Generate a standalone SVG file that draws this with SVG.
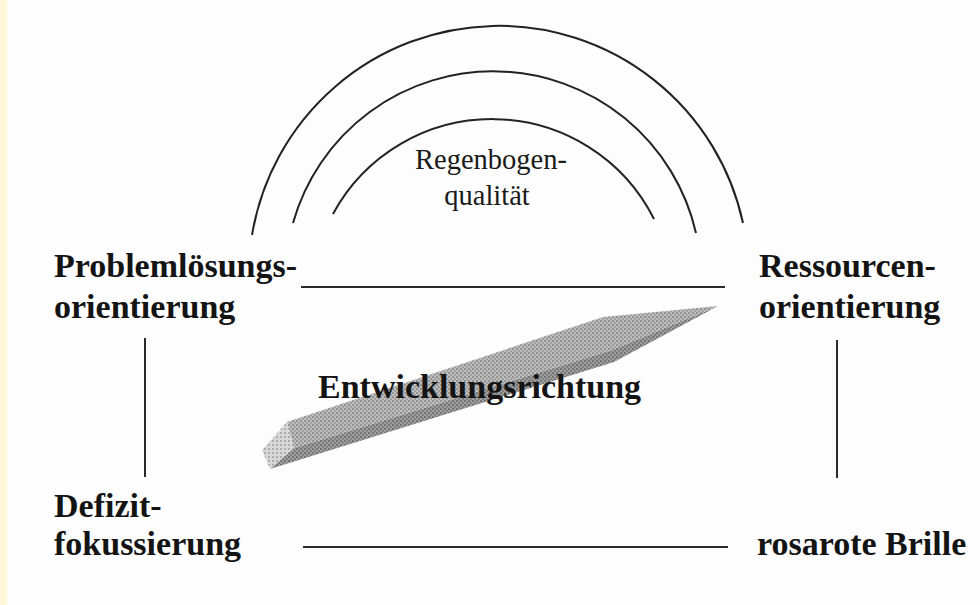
<svg xmlns="http://www.w3.org/2000/svg" width="980" height="605" viewBox="0 0 980 605">
<defs>
<style>
.lbl{font-family:"Liberation Serif","Times New Roman",serif;font-weight:bold;font-size:34px;fill:#141414}
.rb{font-family:"Liberation Serif","Times New Roman",serif;font-size:28.5px;fill:#1a1a1a}
.ln{stroke:#2a2a2a;stroke-width:2;fill:none}
.arc{stroke:#222;stroke-width:2;fill:none}
</style>
<pattern id="dotTop" width="4" height="4" patternUnits="userSpaceOnUse">
<rect width="4" height="4" fill="#bdbdbd"/>
<rect x="0" y="0" width="2" height="2" fill="#929292"/>
<rect x="2" y="2" width="2" height="2" fill="#a0a0a0"/>
</pattern>
<pattern id="dotSide" width="4" height="4" patternUnits="userSpaceOnUse">
<rect width="4" height="4" fill="#9e9e9e"/>
<rect x="0" y="0" width="2" height="2" fill="#747474"/>
<rect x="2" y="2" width="2" height="2" fill="#808080"/>
</pattern>
<pattern id="dotCap" width="4" height="4" patternUnits="userSpaceOnUse">
<rect width="4" height="4" fill="#d8d8d8"/>
<rect x="0" y="0" width="2" height="2" fill="#acacac"/>
</pattern>
</defs>
<rect width="980" height="605" fill="#fdfdfd"/>
<rect x="0" y="0" width="7" height="605" fill="#fff8d8"/>

<g id="rainbow">
<path class="arc" d="M 252 235 A 250 250 0 0 1 743 223"/>
<path class="arc" d="M 293 223 A 208 208 0 0 1 696 233"/>
<path class="arc" d="M 333 214 A 181 181 0 0 1 654 219"/>
<text class="rb" x="491" y="169" text-anchor="middle">Regenbogen-</text>
<text class="rb" x="487" y="205" text-anchor="middle">qualität</text>
</g>

<g id="connectors">
<line class="ln" x1="301" y1="287" x2="725" y2="287"/>
<line class="ln" x1="303" y1="547" x2="728" y2="547"/>
<line class="ln" x1="145" y1="338" x2="145" y2="477"/>
<line class="ln" x1="837" y1="340" x2="837" y2="478"/>
</g>

<g id="arrow">
<polygon points="294,448 612,350 718,306 614,362 270,469" fill="url(#dotSide)"/>
<polygon points="287,422 603,317 718,306 612,350 294,448" fill="url(#dotTop)"/>
<polygon points="287,422 262,450 270,469 294,448" fill="url(#dotCap)"/>
<text class="lbl" x="318" y="398">Entwicklungsrichtung</text>
</g>

<g id="node-problem">
<text class="lbl" x="54" y="277">Problemlösungs-</text>
<text class="lbl" x="54" y="318">orientierung</text>
</g>
<g id="node-ressourcen">
<text class="lbl" x="759" y="277">Ressourcen-</text>
<text class="lbl" x="759" y="318">orientierung</text>
</g>
<g id="node-defizit">
<text class="lbl" x="54" y="517">Defizit-</text>
<text class="lbl" x="54" y="555">fokussierung</text>
</g>
<g id="node-brille">
<text class="lbl" x="757" y="555">rosarote Brille</text>
</g>
</svg>
